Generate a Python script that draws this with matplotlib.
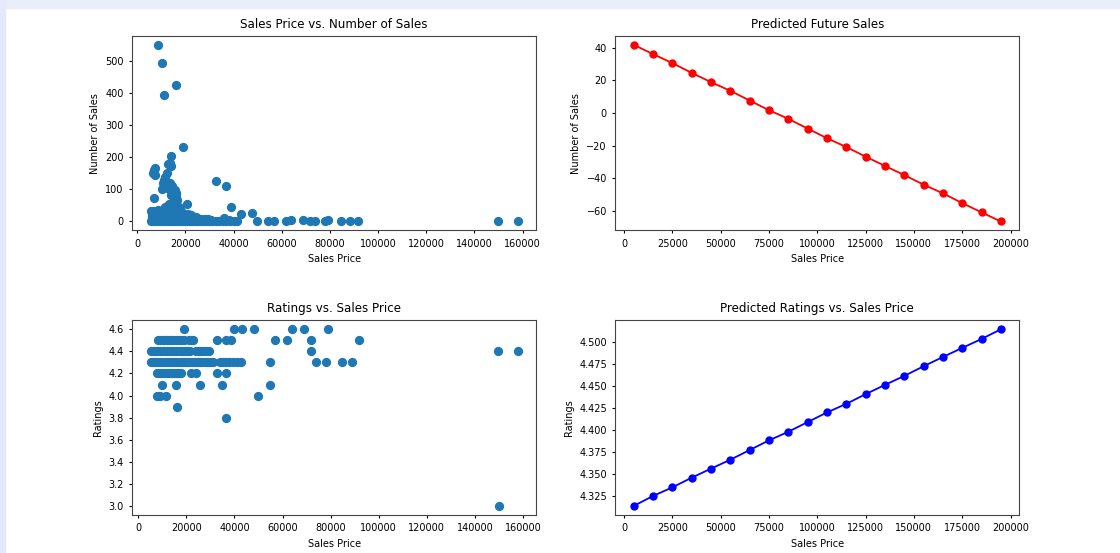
import numpy as np
import matplotlib
matplotlib.use("Agg")
import matplotlib.pyplot as plt
from matplotlib.patches import Rectangle

# --- top left: sales price vs number of sales ---
price_sales = [
    8500, 10400, 10900, 15900, 18800, 14200, 12800, 13600, 14000, 7200, 6900, 6600,
    7500, 12300, 11700, 11000, 10500, 11000, 10200, 12000, 11500, 6900, 14500, 13400,
    13000, 15800, 16200, 16000, 14000, 15000, 16500, 15500, 20700, 32800, 36800, 39000,
    43000, 47700, 49700, 54100, 56800, 61900, 63800, 68800, 71800, 73900, 77900, 79300,
    84700, 88300, 91800, 150000, 158000,
    # dense block
    5800, 7000, 8200, 9400, 10600, 11800, 13000, 14200, 15400, 16600, 17800, 19000,
    20200, 21400, 22600, 23800, 25000, 26200, 27400, 28600, 29800, 31000, 32500, 34000,
    35500, 37000, 38500, 40000, 41500,
    6200, 7400, 8600, 9800, 11000, 12200, 13400, 14600, 15800, 17000, 18200, 19400,
    20600, 21800, 23000, 24200, 25400, 26600, 28000, 29400, 30800, 36200, 38000,
    6000, 7200, 8400, 9600, 10800, 12000, 13200, 14400, 15600, 16800, 18000, 19200,
    20400, 21600, 23000, 24500,
    6000, 7200, 8400, 9600, 10800, 12000, 13200, 14400, 15600, 16800, 18000, 19400,
    21000, 22500,
    5500, 7000, 8400, 9800, 11200, 12600, 14000, 15400, 16800, 18200,
    11500, 13000, 14500, 16000, 17500,
    13000, 14500, 16000,
]
num_sales = [
    551, 493, 393, 427, 232, 204, 179, 183, 173, 168, 160, 150,
    145, 150, 140, 128, 119, 108, 100, 112, 122, 72, 110, 120,
    100, 98, 90, 78, 82, 88, 68, 60, 54, 127, 110, 44,
    24, 26, 0, 0, 0, 0, 4, 5, 0, 0, 0, 5,
    0, 0, 0, 0, 0,
    1, 0, 2, 0, 1, 0, 2, 0, 1, 0, 2, 0,
    1, 0, 2, 0, 1, 0, 2, 0, 1, 0, 2, 0,
    1, 0, 2, 0, 1,
    8, 9, 8, 9, 8, 9, 8, 9, 8, 9, 8, 9,
    8, 9, 8, 9, 8, 7, 8, 7, 6, 10, 6,
    16, 17, 16, 17, 16, 17, 16, 17, 16, 17, 16, 17,
    16, 17, 15, 14,
    25, 26, 25, 26, 25, 26, 25, 26, 25, 26, 25, 24,
    22, 20,
    32, 34, 35, 34, 35, 34, 35, 36, 35, 33,
    45, 46, 47, 46, 44,
    55, 57, 55,
]

# --- bottom left: ratings vs sales price ---
price_rated = [
    # 4.6
    18900, 39700, 43000, 48000, 63900, 69000, 79100,
    # 4.5
    8300, 9200, 10100, 11000, 11900, 12800, 13700, 14600, 15500, 16400, 17300, 18200,
    19100, 20900, 21800, 22700, 32700, 36600, 38600, 57000, 61800, 72000, 91800,
    # 4.4
    5500, 6400, 7300, 8200, 9100, 10000, 10900, 11800, 12700, 13600, 14500, 15400,
    16300, 17200, 18100, 19000, 19900, 20800, 21400, 24100, 25100, 26100, 27100, 28200,
    29600, 71800, 149800, 157800,
    # 4.3
    5100, 6000, 6900, 7800, 8700, 9600, 10500, 11400, 12300, 13200, 14100, 15000,
    15900, 16800, 17700, 18600, 19500, 20400, 21300, 22200, 23100, 24000, 24900, 25800,
    26700, 27600, 28500, 29400, 30300, 31000, 33800, 35100, 36400, 37800, 39300, 41000,
    42800, 54600, 74100, 78000, 84900, 88800,
    # 4.2
    7600, 8500, 9400, 10300, 11200, 12100, 13000, 13900, 14800, 15700, 16600, 17900,
    22000, 24100, 32700, 36600,
    # 4.1
    10000, 15900, 25800, 34900, 54800,
    # 4.0
    7900, 9000, 11400, 49700,
    # 3.9 / 3.8 / 3.0
    16300, 36300, 150000,
]
ratings = (
    [4.6] * 7 + [4.5] * 23 + [4.4] * 28 + [4.3] * 42 + [4.2] * 16
    + [4.1] * 5 + [4.0] * 4 + [3.9, 3.8, 3.0]
)

# --- right column: predictions ---
pred_price = [5000, 15000, 25000, 35000, 45000, 55000, 65000, 75000, 85000, 95000,
              105000, 115000, 125000, 135000, 145000, 155000, 165000, 175000, 185000, 195000]
pred_sales = [41.8, 36.1, 30.6, 24.6, 18.9, 13.6, 7.6, 1.7, -3.6, -9.6,
              -15.5, -20.9, -26.8, -32.5, -38.1, -44.0, -49.3, -55.3, -61.0, -66.6]
pred_ratings = [4.3136, 4.3250, 4.3348, 4.3458, 4.3561, 4.3663, 4.3773, 4.3883, 4.3981, 4.4091,
                4.4201, 4.4299, 4.4409, 4.4515, 4.4617, 4.4727, 4.4833, 4.4936, 4.5038, 4.5148]

plt.rcParams['font.size'] = 7
plt.rcParams['axes.titlesize'] = 8.6
plt.rcParams['axes.labelsize'] = 7
plt.rcParams['xtick.labelsize'] = 7
plt.rcParams['ytick.labelsize'] = 7
plt.rcParams['xtick.major.size'] = 2.5
plt.rcParams['ytick.major.size'] = 2.5
plt.rcParams['axes.edgecolor'] = '#444444'

fig, axs = plt.subplots(2, 2, figsize=(11.2, 5.53), dpi=100)
fig.subplots_adjust(left=0.118, right=0.910, top=0.935, bottom=0.069,
                    wspace=0.196, hspace=0.464)

# light blue page border seen in the screenshot
fig.patches.append(Rectangle((0, 1 - 8 / 553), 1, 8 / 553, transform=fig.transFigure,
                             color='#e9eefa', zorder=-1))
fig.patches.append(Rectangle((0, 0), 5 / 1120, 1, transform=fig.transFigure,
                             color='#e4eafb', zorder=-1))

ax = axs[0, 0]
ax.scatter(price_sales, num_sales, s=32)
ax.set_title("Sales Price vs. Number of Sales")
ax.set_xlabel("Sales Price")
ax.set_ylabel("Number of Sales")

ax = axs[0, 1]
ax.plot(pred_price, pred_sales, color='red', marker='o', markersize=5, linewidth=1.3)
ax.set_title("Predicted Future Sales")
ax.set_xlabel("Sales Price")
ax.set_ylabel("Number of Sales")

ax = axs[1, 0]
ax.scatter(price_rated, ratings, s=32)
ax.set_title("Ratings vs. Sales Price")
ax.set_xlabel("Sales Price")
ax.set_ylabel("Ratings")

ax = axs[1, 1]
ax.plot(pred_price, pred_ratings, color='blue', marker='o', markersize=5, linewidth=1.3)
ax.set_title("Predicted Ratings vs. Sales Price")
ax.set_xlabel("Sales Price")
ax.set_ylabel("Ratings")

plt.savefig("out.png", dpi=100)
